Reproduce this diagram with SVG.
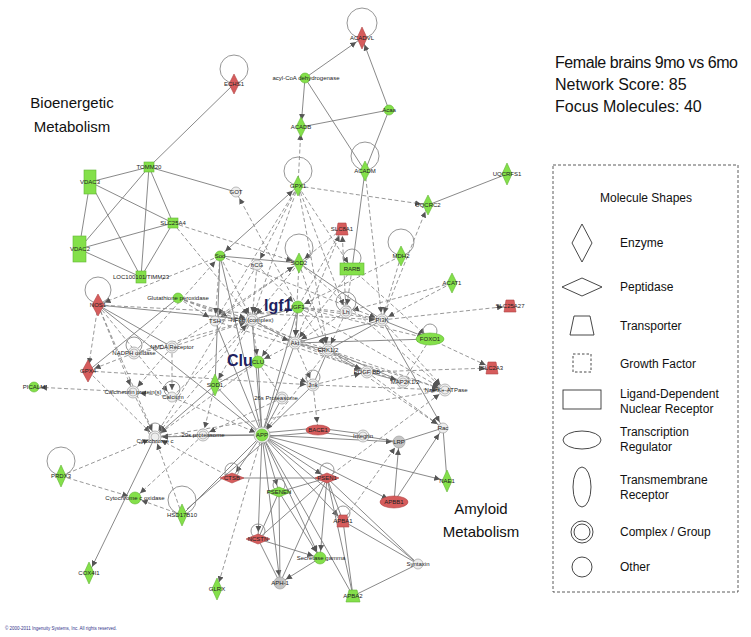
<svg xmlns="http://www.w3.org/2000/svg" width="751" height="637" viewBox="0 0 751 637">
<style>
.s{stroke:#7c7c7c;stroke-width:0.9;fill:none}
.d{stroke:#8c8c8c;stroke-width:0.9;fill:none;stroke-dasharray:4 2.5}
.a{marker-end:url(#ar)}
.b{marker-start:url(#ar)}
.lp{fill:none;stroke:#8a8a8a;stroke-width:0.9}
.g{fill:#84e04a;stroke:#62b534;stroke-width:0.6}
.r{fill:#d65c5c;stroke:#b04545;stroke-width:0.6}
.o{fill:#eeeeee;stroke:#a0a0a0;stroke-width:0.7}
.i{fill:none;stroke:#a0a0a0;stroke-width:0.6}
.gy{fill:#c4c4c4;stroke:#a0a0a0;stroke-width:0.7}
.t{font-family:"Liberation Sans",Arial,sans-serif;font-size:6px;fill:#222;text-anchor:middle}
.big{font-family:"Liberation Sans",Arial,sans-serif;font-size:16px;font-weight:bold;fill:#1f1f5f}
.h{font-family:"Liberation Sans",Arial,sans-serif;font-size:15px;fill:#111}
.hh{font-family:"Liberation Sans",Arial,sans-serif;font-size:16px;fill:#111}
.lg{font-family:"Liberation Sans",Arial,sans-serif;font-size:12px;fill:#111}
.ls{fill:#fff;stroke:#333;stroke-width:0.9}
</style>
<defs>
<marker id="ar" viewBox="0 0 14 6" refX="13" refY="3" markerWidth="14" markerHeight="6" markerUnits="userSpaceOnUse" orient="auto-start-reverse"><path d="M0,0 L6,3 L0,6 z" fill="#555"/></marker>
</defs>
<rect width="751" height="637" fill="#fff"/>

<g id="connectors">
<line class="s" x1="234" y1="84" x2="149" y2="167"/>
<line class="s a" x1="305" y1="78" x2="362" y2="38"/>
<line class="s a" x1="305" y1="78" x2="301" y2="127"/>
<line class="s" x1="305" y1="78" x2="365" y2="171"/>
<line class="s" x1="301" y1="127" x2="389" y2="110"/>
<line class="s a" x1="389" y1="110" x2="362" y2="38"/>
<line class="s" x1="389" y1="110" x2="365" y2="171"/>
<line class="s" x1="149" y1="167" x2="90" y2="182"/>
<line class="s" x1="149" y1="167" x2="79" y2="249"/>
<line class="s" x1="149" y1="167" x2="173" y2="223"/>
<line class="s" x1="149" y1="167" x2="141" y2="277"/>
<line class="s" x1="149" y1="167" x2="236" y2="192"/>
<line class="s" x1="90" y1="182" x2="79" y2="249"/>
<line class="s" x1="90" y1="182" x2="173" y2="223"/>
<line class="s" x1="90" y1="182" x2="141" y2="277"/>
<line class="s" x1="79" y1="249" x2="173" y2="223"/>
<line class="s" x1="79" y1="249" x2="141" y2="277"/>
<line class="s" x1="173" y1="223" x2="141" y2="277"/>
<line class="s" x1="507" y1="174" x2="428" y2="205"/>
<line class="s" x1="365" y1="171" x2="352" y2="269"/>
<line class="s a b" x1="298" y1="186" x2="220" y2="256"/>
<line class="s" x1="220" y1="256" x2="299" y2="263"/>
<line class="s" x1="299" y1="263" x2="382" y2="320"/>
<line class="s" x1="98" y1="305" x2="252" y2="320"/>
<line class="s" x1="98" y1="305" x2="172" y2="347"/>
<line class="s" x1="98" y1="305" x2="262" y2="435"/>
<line class="s" x1="88" y1="371" x2="178" y2="298"/>
<line class="s a" x1="155" y1="437" x2="89" y2="573"/>
<line class="s" x1="298" y1="307" x2="252" y2="320"/>
<line class="s a" x1="298" y1="307" x2="295" y2="343"/>
<line class="s" x1="298" y1="307" x2="262" y2="435"/>
<line class="s" x1="252" y1="320" x2="262" y2="435"/>
<line class="s" x1="295" y1="343" x2="328" y2="350"/>
<line class="s" x1="295" y1="343" x2="262" y2="435"/>
<line class="s" x1="295" y1="343" x2="252" y2="320"/>
<line class="s" x1="328" y1="350" x2="367" y2="372"/>
<line class="s" x1="328" y1="350" x2="313" y2="385"/>
<line class="s" x1="328" y1="350" x2="403" y2="382"/>
<line class="s" x1="403" y1="382" x2="367" y2="372"/>
<line class="s" x1="382" y1="320" x2="328" y2="350"/>
<line class="s" x1="382" y1="320" x2="295" y2="343"/>
<line class="s a" x1="382" y1="320" x2="430" y2="339"/>
<line class="s a" x1="295" y1="343" x2="430" y2="339"/>
<line class="s a" x1="382" y1="320" x2="443" y2="428"/>
<line class="s" x1="443" y1="428" x2="399" y2="442"/>
<line class="s" x1="443" y1="428" x2="447" y2="481"/>
<line class="s" x1="258" y1="362" x2="262" y2="435"/>
<line class="s" x1="258" y1="362" x2="215" y2="385"/>
<line class="s" x1="220" y1="256" x2="215" y2="385"/>
<line class="s" x1="215" y1="385" x2="262" y2="435"/>
<line class="s a" x1="215" y1="385" x2="155" y2="437"/>
<line class="s" x1="313" y1="385" x2="262" y2="435"/>
<line class="s" x1="282" y1="398" x2="262" y2="435"/>
<line class="s" x1="203" y1="435" x2="262" y2="435"/>
<line class="s a" x1="262" y1="435" x2="155" y2="437"/>
<line class="s" x1="215" y1="321" x2="262" y2="435"/>
<line class="s" x1="220" y1="256" x2="262" y2="435"/>
<line class="s" x1="182" y1="515" x2="262" y2="435"/>
<line class="s" x1="187" y1="509" x2="266" y2="440"/>
<line class="s a" x1="262" y1="435" x2="232" y2="478"/>
<line class="s a" x1="262" y1="435" x2="279" y2="492"/>
<line class="s a" x1="262" y1="435" x2="258" y2="539"/>
<line class="s a" x1="262" y1="435" x2="280" y2="583"/>
<line class="s a" x1="262" y1="435" x2="320" y2="558"/>
<line class="s a" x1="262" y1="435" x2="327" y2="478"/>
<line class="s a" x1="262" y1="435" x2="343" y2="521"/>
<line class="s" x1="262" y1="435" x2="353" y2="596"/>
<line class="s" x1="262" y1="433" x2="318" y2="428"/>
<line class="s" x1="262" y1="437" x2="318" y2="432"/>
<line class="s" x1="318" y1="428" x2="363" y2="434"/>
<line class="s" x1="318" y1="432" x2="363" y2="438"/>
<line class="s a" x1="262" y1="435" x2="399" y2="442"/>
<line class="s a" x1="262" y1="435" x2="394" y2="502"/>
<line class="s a" x1="262" y1="435" x2="447" y2="481"/>
<line class="s" x1="262" y1="435" x2="418" y2="564"/>
<line class="s a" x1="394" y1="502" x2="399" y2="442"/>
<line class="s a" x1="394" y1="502" x2="443" y2="428"/>
<line class="s" x1="399" y1="442" x2="363" y2="436"/>
<line class="s" x1="327" y1="478" x2="258" y2="539"/>
<line class="s" x1="327" y1="478" x2="279" y2="492"/>
<line class="s" x1="327" y1="478" x2="280" y2="583"/>
<line class="s a" x1="327" y1="478" x2="320" y2="558"/>
<line class="s" x1="327" y1="478" x2="343" y2="521"/>
<line class="s" x1="327" y1="478" x2="353" y2="596"/>
<line class="s" x1="327" y1="478" x2="418" y2="564"/>
<line class="s" x1="327" y1="478" x2="232" y2="478"/>
<line class="s" x1="258" y1="539" x2="279" y2="492"/>
<line class="s a" x1="258" y1="539" x2="320" y2="558"/>
<line class="s" x1="258" y1="539" x2="280" y2="583"/>
<line class="s" x1="279" y1="492" x2="280" y2="583"/>
<line class="s a" x1="279" y1="492" x2="320" y2="558"/>
<line class="s a" x1="320" y1="558" x2="280" y2="583"/>
<line class="s" x1="343" y1="521" x2="353" y2="596"/>
<line class="s" x1="353" y1="596" x2="418" y2="564"/>
<line class="s" x1="343" y1="521" x2="418" y2="564"/>

<line class="d a" x1="298" y1="186" x2="301" y2="127"/>
<line class="d a" x1="173" y1="223" x2="299" y2="263"/>
<line class="d a" x1="173" y1="223" x2="252" y2="320"/>
<line class="d a" x1="298" y1="186" x2="428" y2="205"/>
<line class="d a" x1="382" y1="320" x2="428" y2="205"/>
<line class="d a" x1="365" y1="171" x2="382" y2="320"/>
<line class="d a" x1="298" y1="186" x2="252" y2="320"/>
<line class="d a" x1="298" y1="186" x2="328" y2="350"/>
<line class="d a" x1="298" y1="186" x2="215" y2="321"/>
<line class="d a" x1="298" y1="186" x2="257" y2="265"/>
<line class="d a" x1="298" y1="186" x2="352" y2="269"/>
<line class="d a" x1="298" y1="186" x2="346" y2="312"/>
<line class="d a" x1="298" y1="307" x2="236" y2="192"/>
<line class="d a" x1="346" y1="312" x2="342" y2="229"/>
<line class="d a" x1="295" y1="343" x2="342" y2="229"/>
<line class="d a" x1="342" y1="229" x2="299" y2="263"/>
<line class="d" x1="342" y1="229" x2="298" y2="307"/>
<line class="d a" x1="299" y1="263" x2="252" y2="320"/>
<line class="d a" x1="299" y1="263" x2="215" y2="321"/>
<line class="d a" x1="299" y1="263" x2="328" y2="350"/>
<line class="d a" x1="299" y1="263" x2="295" y2="343"/>
<line class="d a" x1="299" y1="263" x2="445" y2="390"/>
<line class="d a" x1="352" y1="269" x2="346" y2="312"/>
<line class="d a" x1="352" y1="269" x2="295" y2="343"/>
<line class="d a" x1="352" y1="269" x2="430" y2="339"/>
<line class="d a" x1="401" y1="256" x2="382" y2="320"/>
<line class="d a" x1="401" y1="256" x2="298" y2="307"/>
<line class="d a" x1="452" y1="283" x2="382" y2="320"/>
<line class="d a" x1="452" y1="283" x2="346" y2="312"/>
<line class="d a" x1="382" y1="320" x2="510" y2="306"/>
<line class="d a" x1="430" y1="339" x2="492" y2="368"/>
<line class="d a" x1="367" y1="372" x2="492" y2="368"/>
<line class="d" x1="430" y1="339" x2="403" y2="382"/>
<line class="d a" x1="298" y1="307" x2="445" y2="390"/>
<line class="d a" x1="295" y1="343" x2="445" y2="390"/>
<line class="d a" x1="382" y1="320" x2="445" y2="390"/>
<line class="d a" x1="328" y1="350" x2="443" y2="428"/>
<line class="d a" x1="367" y1="372" x2="443" y2="428"/>
<line class="d a" x1="98" y1="305" x2="88" y2="371"/>
<line class="d a" x1="220" y1="256" x2="98" y2="305"/>
<line class="d a" x1="98" y1="305" x2="133" y2="392"/>
<line class="d a" x1="98" y1="305" x2="172" y2="397"/>
<line class="d a" x1="98" y1="305" x2="155" y2="437"/>
<line class="d a" x1="98" y1="305" x2="382" y2="320"/>
<line class="d a" x1="88" y1="371" x2="155" y2="437"/>
<line class="d a" x1="134" y1="353" x2="88" y2="371"/>
<line class="d a" x1="133" y1="392" x2="34" y2="387"/>
<line class="d" x1="134" y1="353" x2="172" y2="347"/>
<line class="d a" x1="172" y1="347" x2="133" y2="392"/>
<line class="d a" x1="172" y1="347" x2="172" y2="397"/>
<line class="d a" x1="172" y1="347" x2="252" y2="320"/>
<line class="d a" x1="172" y1="347" x2="299" y2="263"/>
<line class="d a" x1="134" y1="353" x2="220" y2="256"/>
<line class="d a" x1="134" y1="353" x2="298" y2="307"/>
<line class="d a" x1="172" y1="397" x2="133" y2="392"/>
<line class="d a" x1="172" y1="397" x2="262" y2="435"/>
<line class="d a" x1="172" y1="397" x2="252" y2="320"/>
<line class="d a" x1="133" y1="392" x2="155" y2="437"/>
<line class="d" x1="215" y1="321" x2="252" y2="320"/>
<line class="d" x1="215" y1="321" x2="298" y2="307"/>
<line class="d a" x1="215" y1="321" x2="403" y2="382"/>
<line class="d a" x1="178" y1="298" x2="252" y2="320"/>
<line class="d a" x1="178" y1="298" x2="215" y2="321"/>
<line class="d a" x1="178" y1="298" x2="295" y2="343"/>
<line class="d a" x1="178" y1="298" x2="445" y2="390"/>
<line class="d a" x1="220" y1="256" x2="252" y2="320"/>
<line class="d a" x1="220" y1="256" x2="215" y2="321"/>
<line class="d a" x1="220" y1="256" x2="382" y2="320"/>
<line class="d a" x1="257" y1="265" x2="252" y2="320"/>
<line class="d a" x1="257" y1="265" x2="298" y2="307"/>
<line class="d a" x1="257" y1="265" x2="155" y2="437"/>
<line class="d a" x1="298" y1="307" x2="328" y2="350"/>
<line class="d" x1="298" y1="307" x2="346" y2="312"/>
<line class="d a" x1="298" y1="307" x2="258" y2="362"/>
<line class="d a" x1="298" y1="307" x2="382" y2="320"/>
<line class="d a" x1="298" y1="307" x2="430" y2="339"/>
<line class="d a" x1="252" y1="320" x2="258" y2="362"/>
<line class="d a" x1="252" y1="320" x2="215" y2="385"/>
<line class="d a" x1="252" y1="320" x2="367" y2="372"/>
<line class="d a" x1="252" y1="320" x2="155" y2="437"/>
<line class="d a" x1="346" y1="312" x2="295" y2="343"/>
<line class="d a" x1="346" y1="312" x2="328" y2="350"/>
<line class="d" x1="346" y1="312" x2="382" y2="320"/>
<line class="d a" x1="295" y1="343" x2="258" y2="362"/>
<line class="d a" x1="295" y1="343" x2="313" y2="385"/>
<line class="d a" x1="295" y1="343" x2="367" y2="372"/>
<line class="d a" x1="328" y1="350" x2="262" y2="435"/>
<line class="d a" x1="258" y1="362" x2="313" y2="385"/>
<line class="d a" x1="258" y1="362" x2="155" y2="437"/>
<line class="d" x1="258" y1="362" x2="282" y2="398"/>
<line class="d a" x1="215" y1="385" x2="203" y2="435"/>
<line class="d a" x1="313" y1="385" x2="318" y2="430"/>
<line class="d a" x1="313" y1="385" x2="367" y2="372"/>
<line class="d a" x1="313" y1="385" x2="445" y2="390"/>
<line class="d a" x1="282" y1="398" x2="203" y2="435"/>
<line class="d a" x1="203" y1="435" x2="155" y2="437"/>
<line class="d a" x1="61" y1="476" x2="155" y2="437"/>
<line class="d a" x1="61" y1="476" x2="135" y2="498"/>
<line class="d a" x1="182" y1="515" x2="155" y2="437"/>
<line class="d a" x1="182" y1="515" x2="135" y2="498"/>
<line class="d a" x1="203" y1="435" x2="135" y2="498"/>
<line class="d a" x1="262" y1="435" x2="217" y2="589"/>
<line class="d a" x1="232" y1="478" x2="155" y2="437"/>
<line class="d" x1="155" y1="437" x2="445" y2="390"/>
<line class="d a" x1="88" y1="371" x2="313" y2="385"/>
<line class="d a" x1="327" y1="478" x2="445" y2="390"/>
<line class="d a" x1="343" y1="521" x2="399" y2="442"/>
</g>

<g id="loops">
<circle class="lp" cx="362" cy="23" r="15"/>
<circle class="lp" cx="234" cy="69" r="14"/>
<circle class="lp" cx="298" cy="171" r="14"/>
<circle class="lp" cx="299" cy="248" r="14"/>
<circle class="lp" cx="365" cy="156" r="14"/>
<circle class="lp" cx="401" cy="242" r="13"/>
<circle class="lp" cx="98" cy="290" r="13"/>
<circle class="lp" cx="61" cy="461" r="14"/>
<circle class="lp" cx="182" cy="500" r="14"/>
<circle class="lp" cx="134" cy="345" r="8"/>
<circle class="lp" cx="430" cy="331" r="7"/>
<circle class="lp" cx="327" cy="470" r="7"/>
<circle class="lp" cx="343" cy="513" r="7"/>
<circle class="lp" cx="258" cy="531" r="7"/>
<circle class="lp" cx="232" cy="470" r="7"/>
<circle class="lp" cx="279" cy="485" r="6"/>
<circle class="lp" cx="155" cy="430" r="7"/>
<circle class="lp" cx="172" cy="389" r="8"/>
<circle class="lp" cx="346" cy="302" r="10"/>
<circle class="lp" cx="352" cy="258" r="9"/>
<circle class="lp" cx="313" cy="377" r="7"/>
</g>

<g id="n-ACADVL"><polygon class="r" points="362,27 367,38 362,49 357,38"/><text class="t" x="362" y="40">ACADVL</text></g>
<g id="n-ECHS1"><polygon class="r" points="234,74 239,84 234,94 229,84"/><text class="t" x="234" y="86">ECHS1</text></g>
<g id="n-acyl"><circle class="g" cx="305" cy="78" r="5"/><text class="t" x="306" y="80">acyl-CoA dehydrogenase</text></g>
<g id="n-Acaa"><circle class="g" cx="389" cy="110" r="5"/><text class="t" x="389" y="112">Acaa</text></g>
<g id="n-ACADB"><polygon class="g" points="301,117 306,127 301,137 296,127"/><text class="t" x="301" y="129">ACADB</text></g>
<g id="n-ACADM"><polygon class="g" points="365,161 370,171 365,181 360,171"/><text class="t" x="365" y="173">ACADM</text></g>
<g id="n-TOMM20"><rect class="g" x="144" y="162" width="10" height="10"/><text class="t" x="149" y="169">TOMM20</text></g>
<g id="n-VDAC3"><rect class="g" x="84" y="170" width="12" height="24"/><text class="t" x="90" y="184">VDAC3</text></g>
<g id="n-VDAC2"><rect class="g" x="73" y="236" width="13" height="26"/><text class="t" x="80" y="251">VDAC2</text></g>
<g id="n-SLC25A4"><rect class="g" x="168" y="218" width="10" height="10"/><text class="t" x="173" y="225">SLC25A4</text></g>
<g id="n-TIMM23"><rect class="g" x="136" y="271" width="10" height="12"/><text class="t" x="141" y="279">LOC100101/TIMM23</text></g>
<g id="n-GOT"><circle class="o" cx="236" cy="192" r="5"/><text class="t" x="236" y="194">GOT</text></g>
<g id="n-GPX1"><polygon class="g" points="298,176 303,186 298,196 293,186"/><text class="t" x="298" y="188">GPX1</text></g>
<g id="n-UQCRFS1"><polygon class="g" points="507,163 512,174 507,185 502,174"/><text class="t" x="507" y="176">UQCRFS1</text></g>
<g id="n-UQCRC2"><polygon class="g" points="428,195 433,205 428,215 423,205"/><text class="t" x="428" y="207">UQCRC2</text></g>
<g id="n-SLC8A1"><polygon class="r" points="336,235 348,235 346,223 338,223"/><text class="t" x="342" y="231">SLC8A1</text></g>
<g id="n-Sod"><circle class="g" cx="220" cy="256" r="5"/><text class="t" x="220" y="258">Sod</text></g>
<g id="n-hCG"><circle class="o" cx="257" cy="265" r="5"/><text class="t" x="257" y="267">hCG</text></g>
<g id="n-SOD2"><polygon class="g" points="299,253 304,263 299,273 294,263"/><text class="t" x="299" y="265">SOD2</text></g>
<g id="n-RARB"><rect class="g" x="340" y="263" width="24" height="12"/><text class="t" x="352" y="271">RARB</text></g>
<g id="n-MDH2"><polygon class="g" points="401,246 406,256 401,266 396,256"/><text class="t" x="401" y="258">MDH2</text></g>
<g id="n-ACAT1"><polygon class="g" points="452,273 457,283 452,293 447,283"/><text class="t" x="452" y="285">ACAT1</text></g>
<g id="n-SLC25A27"><polygon class="r" points="504,312 516,312 514,300 506,300"/><text class="t" x="510" y="308">SLC25A27</text></g>
<g id="n-GPXase"><circle class="g" cx="178" cy="298" r="5"/><text class="t" x="178" y="300">Glutathione peroxidase</text></g>
<g id="n-NOS1"><polygon class="r" points="98,294 104,305 98,316 92,305"/><text class="t" x="98" y="307">NOS1</text></g>
<g id="n-GPX4"><polygon class="r" points="88,360 94,371 88,382 82,371"/><text class="t" x="88" y="373">GPX4</text></g>
<g id="n-PICALM"><circle class="g" cx="34" cy="387" r="5"/><text class="t" x="34" y="389">PICALM</text></g>
<g id="n-NADPH"><circle class="o" cx="134" cy="353" r="6"/><circle class="i" cx="134" cy="353" r="4"/><text class="t" x="134" y="355">NADPH oxidase</text></g>
<g id="n-NMDA"><circle class="o" cx="172" cy="347" r="6"/><circle class="i" cx="172" cy="347" r="4"/><text class="t" x="172" y="349">NMDA Receptor</text></g>
<g id="n-Calcineurin"><circle class="o" cx="133" cy="392" r="6"/><circle class="i" cx="133" cy="392" r="4"/><text class="t" x="133" y="394">Calcineurin protein(s)</text></g>
<g id="n-Calcium"><circle class="o" cx="172" cy="397" r="5"/><text class="t" x="173" y="399">Calcium</text></g>
<g id="n-TSH"><circle class="o" cx="215" cy="321" r="5"/><text class="t" x="215" y="323">TSH</text></g>
<g id="n-NFkB"><circle class="o" cx="252" cy="320" r="6"/><circle class="i" cx="252" cy="320" r="4"/><text class="t" x="252" y="322">NFkB (complex)</text></g>
<g id="n-IGF1"><circle class="g" cx="298" cy="307" r="6"/><text class="t" x="298" y="309">IGF1</text><text class="big" x="264" y="311">Igf1</text></g>
<g id="n-Lh"><circle class="o" cx="346" cy="312" r="6"/><circle class="i" cx="346" cy="312" r="4"/><text class="t" x="346" y="314">Lh</text></g>
<g id="n-Akt"><circle class="o" cx="295" cy="343" r="6"/><circle class="i" cx="295" cy="343" r="4"/><text class="t" x="295" y="345">Akt</text></g>
<g id="n-ERK"><circle class="o" cx="328" cy="350" r="6"/><circle class="i" cx="328" cy="350" r="4"/><text class="t" x="328" y="352">ERK1/2</text></g>
<g id="n-PI3K"><circle class="o" cx="382" cy="320" r="6"/><circle class="i" cx="382" cy="320" r="4"/><text class="t" x="382" y="322">PI3K</text></g>
<g id="n-PDGF"><circle class="o" cx="367" cy="372" r="6"/><circle class="i" cx="367" cy="372" r="4"/><text class="t" x="367" y="374">PDGF BB</text></g>
<g id="n-CLU"><circle class="g" cx="258" cy="362" r="6"/><text class="t" x="258" y="364">CLU</text><text class="big" x="227" y="366">Clu</text></g>
<g id="n-SOD1"><polygon class="g" points="215,374 220,385 215,396 210,385"/><text class="t" x="215" y="387">SOD1</text></g>
<g id="n-Jnk"><circle class="o" cx="313" cy="385" r="6"/><circle class="i" cx="313" cy="385" r="4"/><text class="t" x="313" y="387">Jnk</text></g>
<g id="n-26s"><circle class="o" cx="282" cy="398" r="6"/><circle class="i" cx="282" cy="398" r="4"/><text class="t" x="276" y="400">26s Proteasome</text></g>
<g id="n-CytC"><circle class="o" cx="155" cy="437" r="6"/><circle class="i" cx="155" cy="437" r="4"/><text class="t" x="155" y="443">Cytochrome c</text></g>
<g id="n-20s"><circle class="o" cx="203" cy="435" r="6"/><circle class="i" cx="203" cy="435" r="4"/><text class="t" x="203" y="437">20s proteasome</text></g>
<g id="n-APP"><circle class="o" cx="262" cy="435" r="8"/><circle class="g" cx="262" cy="435" r="6"/><text class="t" x="262" y="437">APP</text></g>
<g id="n-BACE1"><ellipse class="r" cx="318" cy="430" rx="12" ry="5"/><text class="t" x="318" y="432">BACE1</text></g>
<g id="n-Integrin"><circle class="o" cx="363" cy="436" r="6"/><circle class="i" cx="363" cy="436" r="4"/><text class="t" x="363" y="438">Integrin</text></g>
<g id="n-MAP2K"><circle class="o" cx="403" cy="382" r="6"/><circle class="i" cx="403" cy="382" r="4"/><text class="t" x="405" y="384">MAP2K1/2</text></g>
<g id="n-NaK"><circle class="o" cx="445" cy="390" r="6"/><circle class="i" cx="445" cy="390" r="4"/><text class="t" x="446" y="392">Na+/K+-ATPase</text></g>
<g id="n-FOXO1"><ellipse class="g" cx="430" cy="339" rx="14" ry="6"/><text class="t" x="430" y="341">FOXO1</text></g>
<g id="n-SLC2A3"><polygon class="r" points="486,374 498,374 496,362 488,362"/><text class="t" x="492" y="370">SLC2A3</text></g>
<g id="n-Rac"><circle class="o" cx="443" cy="428" r="5"/><text class="t" x="443" y="430">Rac</text></g>
<g id="n-LRP"><circle class="gy" cx="399" cy="442" r="6"/><text class="t" x="399" y="444">LRP</text></g>
<g id="n-APBB1"><ellipse class="r" cx="394" cy="502" rx="14" ry="6"/><text class="t" x="394" y="504">APBB1</text></g>
<g id="n-NAE1"><polygon class="g" points="447,470 452,481 447,492 442,481"/><text class="t" x="447" y="483">NAE1</text></g>
<g id="n-Syntaxin"><circle class="o" cx="418" cy="564" r="5"/><text class="t" x="418" y="566">Syntaxin</text></g>
<g id="n-PRDX3"><polygon class="g" points="61,465 66,476 61,487 56,476"/><text class="t" x="61" y="478">PRDX3</text></g>
<g id="n-CCO"><circle class="g" cx="135" cy="498" r="6"/><text class="t" x="135" y="500">Cytochrome c oxidase</text></g>
<g id="n-HSD17B10"><polygon class="g" points="182,504 187,515 182,526 177,515"/><text class="t" x="182" y="517">HSD17B10</text></g>
<g id="n-COX4I1"><polygon class="g" points="89,562 94,573 89,584 84,573"/><text class="t" x="89" y="575">COX4I1</text></g>
<g id="n-CTSB"><polygon class="r" points="220,478 232,473 244,478 232,483"/><text class="t" x="232" y="480">CTSB</text></g>
<g id="n-PSENEN"><polygon class="g" points="267,492 279,487 291,492 279,497"/><text class="t" x="279" y="494">PSENEN</text></g>
<g id="n-PSEN1"><polygon class="r" points="315,478 327,473 339,478 327,483"/><text class="t" x="327" y="480">PSEN1</text></g>
<g id="n-APBA1"><polygon class="r" points="337,527 349,527 347,515 339,515"/><text class="t" x="343" y="523">APBA1</text></g>
<g id="n-NCSTN"><polygon class="r" points="246,539 258,534 270,539 258,544"/><text class="t" x="258" y="541">NCSTN</text></g>
<g id="n-SecG"><circle class="g" cx="320" cy="558" r="6"/><text class="t" x="321" y="560">Secretase gamma</text></g>
<g id="n-APH1"><circle class="gy" cx="280" cy="583" r="6"/><text class="t" x="280" y="585">APH-1</text></g>
<g id="n-GLRX"><polygon class="g" points="217,578 222,589 217,600 212,589"/><text class="t" x="217" y="591">GLRX</text></g>
<g id="n-APBA2"><polygon class="g" points="346,602 360,602 357,590 349,590"/><text class="t" x="353" y="598">APBA2</text></g>

<g id="titles">
<text class="hh" x="555" y="68" textLength="183" lengthAdjust="spacing">Female brains 9mo vs 6mo</text>
<text class="hh" x="555" y="90">Network Score: 85</text>
<text class="hh" x="555" y="112">Focus Molecules: 40</text>
<text class="h" x="72" y="108" text-anchor="middle">Bioenergetic</text>
<text class="h" x="72" y="132" text-anchor="middle">Metabolism</text>
<text class="h" x="481" y="514" text-anchor="middle">Amyloid</text>
<text class="h" x="481" y="537" text-anchor="middle">Metabolism</text>
<text x="5" y="630" font-family="Liberation Sans, Arial, sans-serif" font-size="4.5" fill="#33338a">&#169; 2000-2011 Ingenuity Systems, Inc. All rights reserved.</text>
</g>

<g id="legend">
<rect x="553" y="165" width="185" height="427" fill="none" stroke="#333" stroke-width="0.8" stroke-dasharray="3 2"/>
<text class="lg" x="646" y="202" text-anchor="middle" font-size="13">Molecule Shapes</text>
<polygon class="ls" points="582,224 592,243 582,262 572,243"/><text class="lg" x="620" y="247">Enzyme</text>
<polygon class="ls" points="562,287 582,278 602,287 582,296"/><text class="lg" x="620" y="291">Peptidase</text>
<polygon class="ls" points="570,335 594,335 590,316 574,316"/><text class="lg" x="620" y="330">Transporter</text>
<rect x="573" y="354" width="18" height="18" fill="#fff" stroke="#333" stroke-width="0.9" stroke-dasharray="2.5 2"/><text class="lg" x="620" y="368">Growth Factor</text>
<rect class="ls" x="563" y="390" width="38" height="19"/><text class="lg" x="620" y="398">Ligand-Dependent</text><text class="lg" x="620" y="413">Nuclear Receptor</text>
<ellipse class="ls" cx="582" cy="440" rx="19" ry="9"/><text class="lg" x="620" y="436">Transcription</text><text class="lg" x="620" y="451">Regulator</text>
<ellipse class="ls" cx="582" cy="487" rx="9" ry="20"/><text class="lg" x="620" y="484">Transmembrane</text><text class="lg" x="620" y="499">Receptor</text>
<circle class="ls" cx="582" cy="532" r="11"/><circle class="ls" cx="582" cy="532" r="8"/><text class="lg" x="620" y="536">Complex / Group</text>
<circle class="ls" cx="582" cy="567" r="10"/><text class="lg" x="620" y="571">Other</text>
</g>
</svg>
